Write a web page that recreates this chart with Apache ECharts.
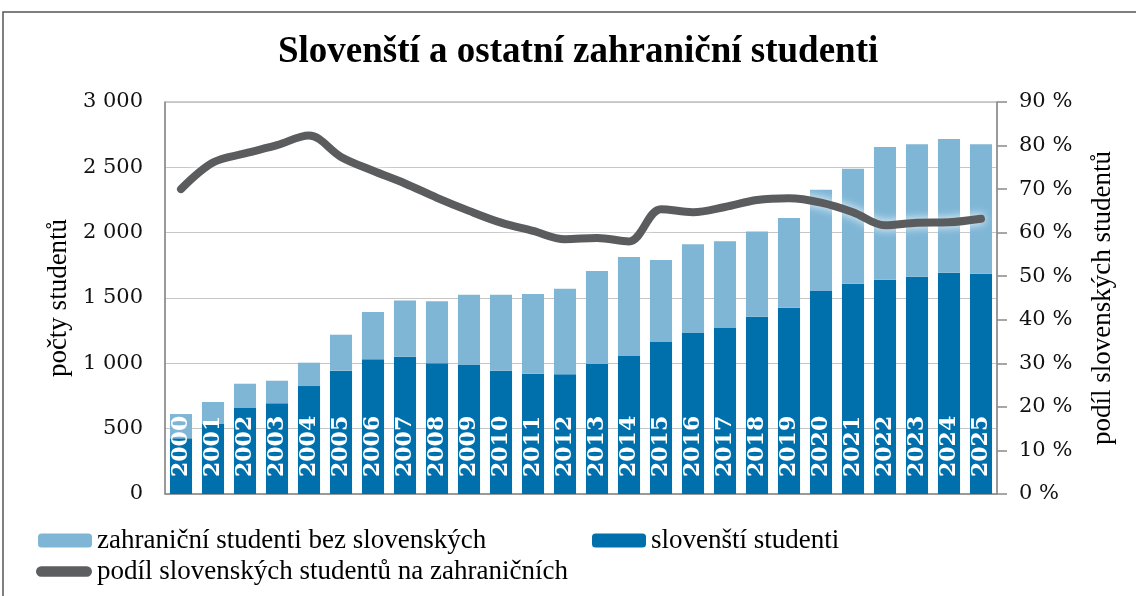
<!DOCTYPE html>
<html>
<head>
<meta charset="utf-8">
<title>Slovenští a ostatní zahraniční studenti</title>
<script src="https://cdn.jsdelivr.net/npm/echarts@6/dist/echarts.min.js"></script>
<style>
	html, body { margin: 0; padding: 0; background: #fff; }
	#chart { width: 1136px; height: 596px; }
</style>
</head>
<body>
<div id="chart"></div>
<script>
	var years = ['2000', '2001', '2002', '2003', '2004', '2005', '2006', '2007', '2008', '2009', '2010', '2011', '2012',
		'2013', '2014', '2015', '2016', '2017', '2018', '2019', '2020', '2021', '2022', '2023', '2024', '2025'];

	// slovenští studenti (tmavě modrá)
	var slovakStudents = [426, 536, 658, 694, 826, 944, 1031, 1051, 1000, 987, 944, 921, 916,
		997, 1056, 1163, 1232, 1270, 1357, 1426, 1553, 1610, 1640, 1663, 1694, 1686];

	// zahraniční studenti bez slovenských (světle modrá)
	var otherForeign = [186, 168, 186, 173, 179, 275, 362, 429, 475, 538, 581, 610, 655,
		710, 758, 628, 679, 664, 651, 686, 776, 880, 1016, 1013, 1023, 990];

	// podíl slovenských studentů v %
	var slovakShare = [70.0, 76.1, 78.2, 80.1, 82.3, 77.4, 74.2, 71.3, 68.0, 65.0, 62.3, 60.4, 58.5,
		58.8, 58.0, 65.4, 64.7, 65.9, 67.5, 67.9, 66.9, 64.7, 61.7, 62.3, 62.4, 63.2];

	var countTicks = [0, 500, 1000, 1500, 2000, 2500, 3000];
	var shareTicks = [0, 10, 20, 30, 40, 50, 60, 70, 80, 90];

	var nameOther = 'zahraniční studenti bez slovenských';
	var nameSlovak = 'slovenští studenti';
	var nameShare = 'podíl slovenských studentů na zahraničních';

	var serif = 'Liberation Serif';
	var numFont = 'DejaVu Serif';

	function fmtCount(v) {
		if (v < 1000) return String(v);
		var rest = String(v % 1000);
		while (rest.length < 3) rest = '0' + rest;
		return Math.floor(v / 1000) + ' ' + rest;
	}

	var legendText = { fontFamily: serif, fontSize: 27, color: '#000' };

	var chart = echarts.init(document.getElementById('chart'));
	chart.setOption({
		animation: false,
		title: {
			text: 'Slovenští a ostatní zahraniční studenti',
			left: 273,
			top: 29,
			textStyle: { fontFamily: serif, fontWeight: 'bold', fontSize: 37, color: '#000' }
		},
		graphic: [{
			type: 'rect',
			shape: { x: 3, y: 12, width: 1200, height: 700 },
			style: { fill: 'none', stroke: '#555', lineWidth: 1.5 },
			silent: true
		}],
		legend: [
			{ data: [nameOther], left: 33, top: 522, itemWidth: 54, itemHeight: 14, textStyle: legendText },
			{ data: [nameSlovak], left: 587, top: 522, itemWidth: 54, itemHeight: 14, textStyle: legendText },
			{
				data: [{ name: nameShare, icon: 'path://M5,0 L49,0 A5,5 0 0 1 49,10 L5,10 A5,5 0 0 1 5,0 Z' }],
				left: 31, top: 553, itemWidth: 56, itemHeight: 11,
				itemStyle: { color: '#5d5e60' },
				textStyle: legendText
			}
		],
		grid: {
			left: 165, right: 139, top: 102, bottom: 102,
			show: true, borderColor: '#9a9a9a', borderWidth: 1
		},
		xAxis: {
			type: 'category',
			data: years,
			axisLine: { lineStyle: { color: '#8a8a8a', width: 1.5 } },
			axisTick: { show: false },
			axisLabel: { show: false }
		},
		yAxis: [
			{
				type: 'value',
				min: countTicks[0],
				max: countTicks[countTicks.length - 1],
				interval: 500,
				name: 'počty studentů',
				nameLocation: 'middle',
				nameRotate: 90,
				nameGap: 93,
				nameTextStyle: { fontFamily: serif, fontSize: 27, color: '#000' },
				axisLine: { show: true, lineStyle: { color: '#8a8a8a', width: 1.5 } },
				axisTick: { show: false },
				axisLabel: { margin: 22, fontFamily: numFont, fontSize: 21, color: '#111', formatter: fmtCount },
				splitLine: { lineStyle: { color: '#c6c6c6', width: 1 } }
			},
			{
				type: 'value',
				position: 'right',
				min: shareTicks[0],
				max: shareTicks[shareTicks.length - 1],
				interval: 10,
				name: 'podíl slovenských studentů',
				nameLocation: 'middle',
				nameRotate: 90,
				nameGap: 92,
				nameTextStyle: { fontFamily: serif, fontSize: 27, color: '#000' },
				axisLine: { show: true, lineStyle: { color: '#8a8a8a', width: 1.5 } },
				axisTick: { show: true, length: 10, lineStyle: { color: '#8a8a8a', width: 1.5 } },
				axisLabel: { margin: 22, fontFamily: numFont, fontSize: 21, color: '#111', formatter: '{value} %' },
				splitLine: { show: false }
			}
		],
		series: [
			{
				name: nameSlovak,
				type: 'bar',
				stack: 'studenti',
				data: slovakStudents,
				barCategoryGap: '31%',
				itemStyle: { color: '#0070ad' },
				label: {
					show: true,
					position: 'insideBottom',
					distance: 16,
					padding: [0, 0, 0, 1],
					rotate: 90,
					align: 'left',
					verticalAlign: 'middle',
					formatter: '{b}',
					fontFamily: numFont,
					fontWeight: 'bold',
					fontSize: 22,
					color: '#fff'
				}
			},
			{
				name: nameOther,
				type: 'bar',
				stack: 'studenti',
				data: otherForeign,
				itemStyle: { color: '#7fb6d6' }
			},
			{
				name: nameShare,
				type: 'line',
				yAxisIndex: 1,
				data: slovakShare,
				smooth: 0.35,
				symbol: 'none',
				z: 5,
				lineStyle: {
					color: '#5b5c5e',
					width: 8,
					cap: 'round',
					join: 'round',
					shadowColor: 'rgba(255,255,255,0.95)',
					shadowBlur: 10
				}
			}
		]
	});
</script>
</body>
</html>
